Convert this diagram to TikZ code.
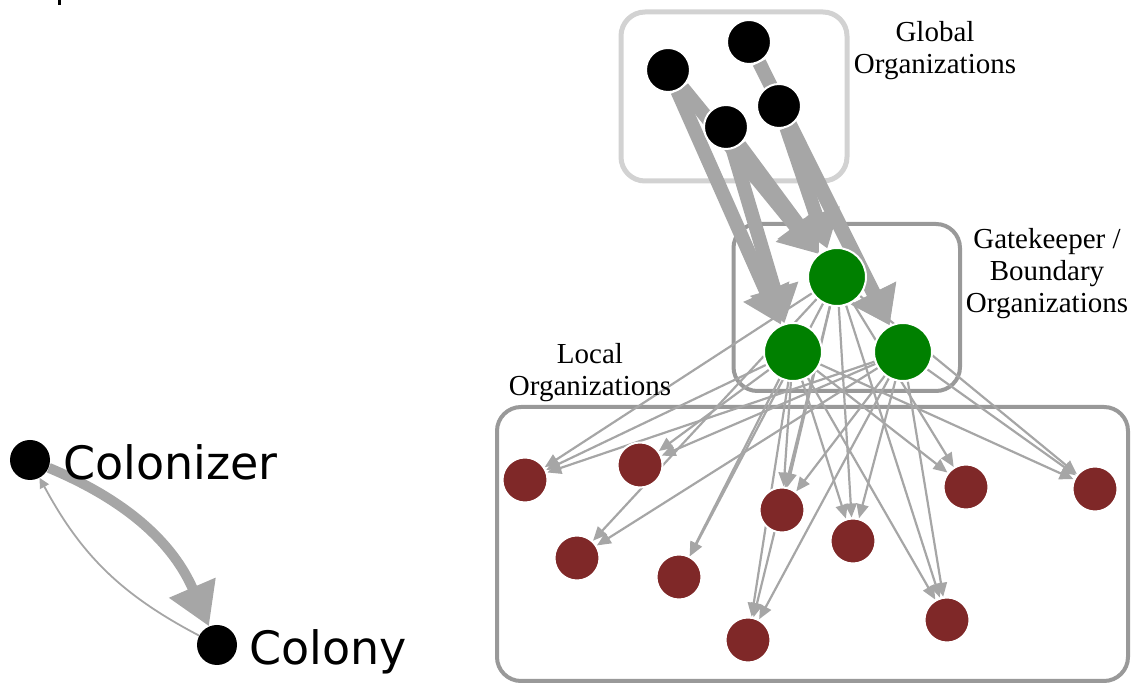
\documentclass[tikz,border=0pt]{standalone}
\usepackage{fontspec}
\setmainfont{Liberation Serif}
\newfontfamily\legendfont{DejaVu Sans}
\usetikzlibrary{arrows.meta}

\pgfdeclarelayer{boxlayer}
\pgfdeclarelayer{edgelayer}
\pgfsetlayers{boxlayer,edgelayer,main}

\definecolor{edgegray}{RGB}{166,166,166}
\definecolor{globalbox}{RGB}{210,210,210}
\definecolor{groupbox}{RGB}{153,153,153}
\definecolor{localred}{RGB}{127,40,40}
\definecolor{gatekeeper}{RGB}{0,128,0}

\begin{document}
\begin{tikzpicture}[x=0.5pt,y=-0.5pt,
  org/.style={circle, draw=white, line width=1pt, inner sep=0pt},
  globalorg/.style={org, fill=black, minimum size=22pt},
  gateorg/.style={org, fill=gatekeeper, minimum size=29pt},
  localorg/.style={org, fill=localred, minimum size=22.5pt},
  legendorg/.style={circle, fill=black, inner sep=0pt, minimum size=20pt},
  heavyflow/.style={draw=edgegray, line width=7pt, -{Triangle[length=18pt,width=24pt]}},
  lightflow/.style={draw=edgegray, line width=1.1pt, -{Triangle[length=7pt,width=6pt]}},
  grouplabel/.style={font=\fontsize{14.5pt}{16pt}\selectfont, align=center, inner sep=0pt},
  legendlabel/.style={font=\legendfont\fontsize{23pt}{27pt}\selectfont, inner sep=0pt, anchor=base west},
  groupframe/.style={rounded corners=12pt, line width=2pt, draw=groupbox}
]
\useasboundingbox (0,0) rectangle (1131,683);

% clipped glyph at the top edge
\fill (57.5,0) rectangle (60.5,5);

% group frames
\begin{pgfonlayer}{boxlayer}
  \draw[groupframe, draw=globalbox, line width=2.5pt] (621,12) rectangle (847,181);
  \draw[groupframe] (733.5,224) rectangle (960,391);
  \draw[groupframe] (497,407) rectangle (1128,681);
\end{pgfonlayer}

% global organizations
\node[globalorg] (G1) at (668,70) {};
\node[globalorg] (G2) at (749,42) {};
\node[globalorg] (G3) at (726,127) {};
\node[globalorg] (G4) at (779,106) {};

% gatekeeper / boundary organizations
\node[gateorg] (K1) at (837,277) {};
\node[gateorg] (K2) at (793,352) {};
\node[gateorg] (K3) at (903,352) {};

% local organizations
\node[localorg] (L1) at (525,480) {};
\node[localorg] (L2) at (640,465) {};
\node[localorg] (L3) at (577,558) {};
\node[localorg] (L4) at (679,577) {};
\node[localorg] (L5) at (782,510) {};
\node[localorg] (L6) at (853,541) {};
\node[localorg] (L7) at (748,640) {};
\node[localorg] (L8) at (966,487) {};
\node[localorg] (L9) at (947,620) {};
\node[localorg] (L10) at (1095,489) {};

% group labels
\node[grouplabel] (globallabel) at (935,51) {Global\\Organizations};
\node[grouplabel] (gatelabel) at (1047,274) {Gatekeeper /\\Boundary\\Organizations};
\node[grouplabel] (locallabel) at (590,373) {Local\\Organizations};

% legend
\node[legendorg] (colonizer) at (30,460) {};
\node[legendorg] (colony) at (217,645) {};
\node[legendlabel] (colonizerlabel) at (63,480) {Colonizer};
\node[legendlabel] (colonylabel) at (249,665) {Colony};

\begin{pgfonlayer}{edgelayer}
  % legend flows
  \draw[draw=edgegray, line width=5pt, -{Triangle[length=21pt,width=24pt]}]
    (colonizer) to[bend left=22] (colony);
  \draw[draw=edgegray, line width=0.9pt, -{Triangle[length=5pt,width=5pt]}]
    (colony) to[bend left=17] (colonizer);

  % global -> gatekeeper flows
  \foreach \s/\t in {G1/K2, G1/K1, G2/K3, G3/K2, G3/K1, G4/K1, G4/K3}
    \draw[heavyflow] (\s) -- (\t);

  % gatekeeper -> local flows
  \foreach \s/\t in {K1/L1, K2/L1, K3/L1,
                     K2/L2, K3/L2,
                     K1/L3, K3/L3,
                     K1/L4, K2/L4,
                     K1/L5, K2/L5, K3/L5,
                     K1/L6, K2/L6, K3/L6,
                     K1/L7, K2/L7, K3/L7,
                     K1/L8, K2/L8,
                     K1/L9, K2/L9, K3/L9,
                     K1/L10, K2/L10, K3/L10}
    \draw[lightflow] (\s) -- (\t);
\end{pgfonlayer}
\end{tikzpicture}
\end{document}
